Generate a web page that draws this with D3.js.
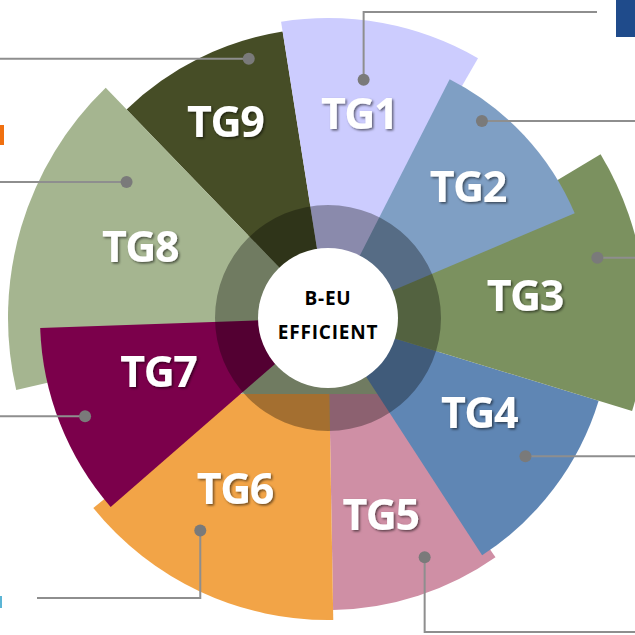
<!DOCTYPE html>
<html>
<head>
<meta charset="utf-8">
<script src="https://cdn.jsdelivr.net/npm/d3@7"></script>
<style>
  html, body { margin: 0; padding: 0; background: #ffffff; }
  svg { display: block; }
</style>
</head>
<body>
<svg id="chart" width="635" height="635"></svg>
<script>
// ---------- data ----------
const categories  = ["TG1", "TG2", "TG3", "TG4", "TG5", "TG6", "TG7", "TG8", "TG9"];
const startAngles = [-9, 27, 59, 107, 145, 179, 229, 257, 316];   // degrees, clockwise from top
const endAngles   = [30, 67, 107, 147, 179, 231, 268, 316, 351];
const values      = [300, 268, 318, 283, 292, 302, 288, 320, 290]; // segment length
const colors      = ["#CCCCFE", "#7F9FC4", "#7B915F", "#5F86B4", "#CF8FA5", "#F2A447", "#7B004B", "#A5B590", "#464D26"];
const drawOrder   = ["TG9", "TG1", "TG5", "TG4", "TG3", "TG2", "TG6", "TG8", "TG7"];
const hubLines    = ["B-EU", "EFFICIENT"];

// ---------- layout (annotation placement) ----------
const labelAngles = [8.6, 46.7, 83.6, 122, 165, 208.7, 252.4, 290.7, 332.4];
const labelRadii  = [207, 192, 198, 178, 203, 194, 178, 201, 222];
const calloutAngles = [8.5, 38, 77.4, 125, 158, 211, 248, 304, 343];
const calloutRadii  = [241, 250, 276, 241, 258, 248, 262, 243, 271];
const calloutBendY  = [12, null, null, null, 632, 598, null, null, null];
const calloutEndX   = [597, 635, 635, 635, 635, 37, 0, 0, 0];

const W = 635, H = 635, cx = 328, cy = 318;
const svg = d3.select("#chart");
const rad = d => d * Math.PI / 180;

const rScale = d3.scaleLinear().domain([0, 330]).range([0, 330]);

const defs = svg.append("defs");
const f = defs.append("filter").attr("id", "shadow").attr("x", "-20%").attr("y", "-20%").attr("width", "140%").attr("height", "140%");
f.append("feDropShadow").attr("dx", 1.5).attr("dy", 1.5).attr("stdDeviation", 1.2)
  .attr("flood-color", "#000").attr("flood-opacity", 0.55);
defs.append("clipPath").attr("id", "lowcut")
  .append("rect").attr("x", -cx).attr("y", 76).attr("width", W).attr("height", H);

const segs = categories.map((c, i) => ({
  name: c, start: startAngles[i], end: endAngles[i], value: values[i], color: colors[i], i
}));

const g = svg.append("g").attr("transform", `translate(${cx},${cy})`);

// base of the hub (TG8 tone shows through beneath)
g.append("circle").attr("r", 115).attr("fill", colors[7]);

const arc = d3.arc()
  .innerRadius(0)
  .outerRadius(d => rScale(d.value))
  .startAngle(d => rad(d.start))
  .endAngle(d => rad(d.end));

const ordered = drawOrder.map(n => segs.find(s => s.name === n));
g.selectAll("path.seg").data(ordered).enter().append("path")
  .attr("class", "seg")
  .attr("d", arc)
  .attr("fill", d => d.color)
  .attr("clip-path", d => (d.name === "TG5" || d.name === "TG6") ? "url(#lowcut)" : null);

// translucent dark ring
g.append("path")
  .attr("d", d3.arc().innerRadius(68).outerRadius(113).startAngle(0).endAngle(2 * Math.PI)())
  .attr("fill", "#000").attr("fill-opacity", 0.32);

// white hub
g.append("circle").attr("r", 70).attr("fill", "#ffffff");
g.selectAll("text.hub").data(hubLines).enter().append("text")
  .attr("class", "hub")
  .attr("x", 0)
  .attr("y", (d, i) => -13 + i * 34)
  .attr("text-anchor", "middle")
  .attr("font-family", "'Open Sans', sans-serif")
  .attr("font-weight", 700)
  .attr("font-size", 19)
  .attr("letter-spacing", 0.8)
  .attr("fill", "#000")
  .text(d => d);

// segment labels
g.selectAll("text.lab").data(segs).enter().append("text")
  .attr("class", "lab")
  .attr("x", d => labelRadii[d.i] * Math.sin(rad(labelAngles[d.i])))
  .attr("y", d => -labelRadii[d.i] * Math.cos(rad(labelAngles[d.i])))
  .attr("dy", "0.36em")
  .attr("text-anchor", "middle")
  .attr("font-family", "'Open Sans', sans-serif")
  .attr("font-weight", 700)
  .attr("font-size", 43)
  .attr("letter-spacing", -1.5)
  .attr("fill", "#ffffff")
  .attr("filter", "url(#shadow)")
  .text(d => d.name);

// callout lines + dots (drawn in page coordinates)
const co = svg.append("g");
segs.forEach(d => {
  const px = cx + calloutRadii[d.i] * Math.sin(rad(calloutAngles[d.i]));
  const py = cy - calloutRadii[d.i] * Math.cos(rad(calloutAngles[d.i]));
  const pts = [[px, py]];
  if (calloutBendY[d.i] !== null) {
    pts.push([px, calloutBendY[d.i]]);
    pts.push([calloutEndX[d.i], calloutBendY[d.i]]);
  } else {
    pts.push([calloutEndX[d.i], py]);
  }
  co.append("path").attr("d", d3.line()(pts))
    .attr("fill", "none").attr("stroke", "#8E8E8E").attr("stroke-width", 2);
  co.append("circle").attr("cx", px).attr("cy", py).attr("r", 6).attr("fill", "#7A7A7A");
});

// cropped bits of neighbouring graphics at the edges
svg.append("rect").attr("x", 616).attr("y", 0).attr("width", 19).attr("height", 37).attr("fill", "#1F4B8B");
svg.append("rect").attr("x", 0).attr("y", 125).attr("width", 4).attr("height", 20).attr("fill", "#F07010");
svg.append("rect").attr("x", 0).attr("y", 596).attr("width", 2).attr("height", 12).attr("fill", "#5BB5D5");
</script>
</body>
</html>
